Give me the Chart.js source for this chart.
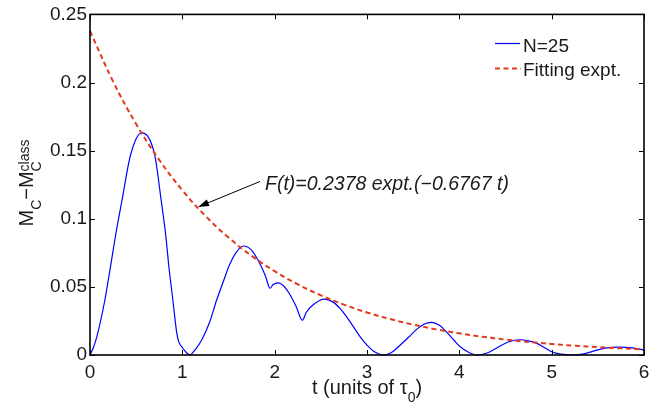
<!DOCTYPE html>
<html>
<head>
<meta charset="utf-8">
<script src="https://cdn.jsdelivr.net/npm/chart.js@4/dist/chart.umd.min.js"></script>
<style>
  html, body { margin: 0; padding: 0; background: #fff; }
  #wrap { width: 669px; height: 410px; }
</style>
</head>
<body>
<div id="wrap"><canvas id="decayChart" width="669" height="410"></canvas></div>
<script>
// values
const blueT = [0, 0.04, 0.08, 0.16, 0.22, 0.28, 0.345, 0.44, 0.56, 0.70, 0.772, 0.819, 0.855, 0.898, 0.94,
    0.96, 1.0, 1.04, 1.08, 1.14, 1.21, 1.30, 1.37, 1.45, 1.51, 1.58, 1.66, 1.75, 1.84, 1.90, 1.95,
    1.98, 2.04, 2.10, 2.16, 2.23, 2.30, 2.34, 2.42, 2.54, 2.63, 2.71, 2.78, 2.85, 2.93, 3.00, 3.09,
    3.18, 3.27, 3.36, 3.45, 3.54, 3.62, 3.70, 3.78, 3.86, 3.94, 4.01, 4.10, 4.19, 4.30, 4.40, 4.53,
    4.66, 4.76, 4.84, 4.92, 5.00, 5.10, 5.24, 5.37, 5.49, 5.60, 5.72, 5.85, 6.00];
const blueM = [0, 0.006, 0.015, 0.040, 0.064, 0.089, 0.113, 0.147, 0.163, 0.147, 0.113, 0.0887, 0.0644, 0.040, 0.016,
    0.010, 0.0055, 0.002, 0, 0.004, 0.011, 0.025, 0.040, 0.055, 0.066, 0.075, 0.080, 0.077, 0.067, 0.058, 0.049,
    0.0515, 0.053, 0.0505, 0.045, 0.036, 0.0255, 0.031, 0.037, 0.041, 0.039, 0.034, 0.028, 0.021, 0.013, 0.0073, 0.002,
    0, 0.002, 0.0073, 0.013, 0.019, 0.0228, 0.024, 0.022, 0.017, 0.011, 0.006, 0.002, 0, 0.0015, 0.005, 0.0095,
    0.0112, 0.0102, 0.0085, 0.0055, 0.0024, 0.0006, 0, 0.0012, 0.0036, 0.0052, 0.0058, 0.0054, 0.0036];

const fitT = [0, 0.25, 0.5, 0.75, 1, 1.25, 1.5, 1.75, 2, 2.25, 2.5, 2.75, 3, 3.25, 3.5, 3.75, 4, 4.25, 4.5, 4.75, 5, 5.25, 5.5, 5.75, 6];
const fitM = [0.2378, 0.2008, 0.1695, 0.1432, 0.1209, 0.1021, 0.0862, 0.0728, 0.0615, 0.0519, 0.0438, 0.0370, 0.0312,
    0.0264, 0.0223, 0.0188, 0.0159, 0.0134, 0.0113, 0.0096, 0.0081, 0.0068, 0.0058, 0.0049, 0.0041];

const xTicks = [0, 1, 2, 3, 4, 5, 6];
const xTickLabels = ['0', '1', '2', '3', '4', '5', '6'];
const yTicks = [0, 0.05, 0.1, 0.15, 0.2, 0.25];
const yTickLabels = ['0', '0.05', '0.1', '0.15', '0.2', '0.25'];

const seriesNames = ['N=25', 'Fitting expt.'];
const fitNote = 'F(t)=0.2378 expt.(\u22120.6767 t)';

const FONT = '"Liberation Sans", Arial, Helvetica, sans-serif';
const BLUE = '#0000ff';
const RED = '#e2381c';
const INK = '#1a1a1a';

// draws a piece of text with sub/superscripts, left to right from x
function drawRich(ctx, parts, x, y) {
    parts.forEach(p => {
        ctx.font = p.size + 'px ' + FONT;
        const w = ctx.measureText(p.text).width;
        ctx.fillText(p.text, x, y + (p.dy || 0));
        if (p.sup) {
            ctx.font = p.sup.size + 'px ' + FONT;
            ctx.fillText(p.sup.text, x, y + p.sup.dy);
            x += Math.max(w, ctx.measureText(p.sup.text).width);
        } else {
            x += w;
        }
    });
    return x;
}

function richWidth(ctx, parts) {
    let w = 0;
    parts.forEach(p => {
        ctx.font = p.size + 'px ' + FONT;
        let pw = ctx.measureText(p.text).width;
        if (p.sup) {
            ctx.font = p.sup.size + 'px ' + FONT;
            pw = Math.max(pw, ctx.measureText(p.sup.text).width);
        }
        w += pw;
    });
    return w;
}

const frameAndNotes = {
    id: 'frameAndNotes',
    afterDatasetsDraw(chart) {
        const ctx = chart.ctx;
        const a = chart.chartArea;
        const xs = chart.scales.x, ys = chart.scales.y;
        ctx.save();

        // inward ticks on all four sides (matlab box)
        ctx.strokeStyle = '#000';
        ctx.lineWidth = 1;
        ctx.beginPath();
        xTicks.forEach(v => {
            const px = Math.round(xs.getPixelForValue(v)) + 0.5;
            ctx.moveTo(px, a.bottom); ctx.lineTo(px, a.bottom - 5);
            ctx.moveTo(px, a.top); ctx.lineTo(px, a.top + 5);
        });
        yTicks.forEach(v => {
            const py = Math.round(ys.getPixelForValue(v)) + 0.5;
            ctx.moveTo(a.left, py); ctx.lineTo(a.left + 5, py);
            ctx.moveTo(a.right, py); ctx.lineTo(a.right - 5, py);
        });
        ctx.stroke();

        ctx.lineWidth = 1.6;
        ctx.strokeRect(a.left, a.top, a.right - a.left, a.bottom - a.top);

        // legend, top right inside the box
        ctx.lineWidth = 1.2;
        ctx.strokeStyle = BLUE;
        ctx.beginPath(); ctx.moveTo(495, 43.5); ctx.lineTo(520, 43.5); ctx.stroke();
        ctx.strokeStyle = RED;
        ctx.lineWidth = 2;
        ctx.setLineDash([5, 3.5]);
        ctx.beginPath(); ctx.moveTo(495, 68.5); ctx.lineTo(521, 68.5); ctx.stroke();
        ctx.setLineDash([]);
        ctx.fillStyle = INK;
        ctx.font = '19px ' + FONT;
        ctx.textBaseline = 'alphabetic';
        ctx.textAlign = 'left';
        ctx.fillText(seriesNames[0], 523, 51.5);
        ctx.fillText(seriesNames[1], 523, 76);

        // fit annotation with arrow
        ctx.font = 'italic 19.5px ' + FONT;
        ctx.fillText(fitNote, 265, 190);
        ctx.strokeStyle = '#000';
        ctx.lineWidth = 1;
        ctx.beginPath(); ctx.moveTo(260, 181.5); ctx.lineTo(204, 204.5); ctx.stroke();
        const ang = Math.atan2(207 - 181.5, 198 - 260);
        ctx.beginPath();
        ctx.moveTo(198, 207);
        ctx.lineTo(198 - 11 * Math.cos(ang) + 3.5 * Math.sin(ang), 207 - 11 * Math.sin(ang) - 3.5 * Math.cos(ang));
        ctx.lineTo(198 - 11 * Math.cos(ang) - 3.5 * Math.sin(ang), 207 - 11 * Math.sin(ang) + 3.5 * Math.cos(ang));
        ctx.closePath();
        ctx.fillStyle = '#000';
        ctx.fill();

        // x axis title: t (units of tau_0)
        ctx.fillStyle = INK;
        const xParts = [
            { text: 't (units of \u03c4', size: 20 },
            { text: '0', size: 14, dy: 8 },
            { text: ')', size: 20 }
        ];
        const xw = richWidth(ctx, xParts);
        drawRich(ctx, xParts, (a.left + a.right) / 2 - xw / 2, 394);

        // y axis title: M_C - M_C^class
        const yParts = [
            { text: 'M', size: 20 },
            { text: 'C', size: 14, dy: 8 },
            { text: '\u2212M', size: 20 },
            { text: 'C', size: 14, dy: 8, sup: { text: 'class', size: 14, dy: -4 } }
        ];
        const yw = richWidth(ctx, yParts);
        ctx.translate(33, 183);
        ctx.rotate(-Math.PI / 2);
        drawRich(ctx, yParts, -yw / 2, 0);
        ctx.restore();
    }
};

const ctx = document.getElementById('decayChart').getContext('2d');
new Chart(ctx, {
    type: 'line',
    data: {
        datasets: [{
            label: seriesNames[1],
            data: fitT.map((t, i) => ({ x: t, y: fitM[i] })),
            borderColor: RED,
            borderWidth: 2,
            borderDash: [5, 3.5],
            pointRadius: 0,
            fill: false,
            tension: 0.4,
            clip: 4,
            order: 0
        }, {
            label: seriesNames[0],
            data: blueT.map((t, i) => ({ x: t, y: blueM[i] })),
            borderColor: BLUE,
            borderWidth: 1.2,
            pointRadius: 0,
            fill: false,
            cubicInterpolationMode: 'monotone',
            clip: 4,
            order: 1
        }]
    },
    options: {
        responsive: false,
        animation: false,
        devicePixelRatio: 1,
        layout: { padding: { top: 12, right: 25, bottom: 0, left: 0 } },
        plugins: {
            legend: { display: false },
            tooltip: { enabled: false }
        },
        scales: {
            x: {
                type: 'linear',
                min: 0,
                max: 6,
                afterBuildTicks: scale => { scale.ticks = xTicks.map(v => ({ value: v })); },
                afterFit: scale => { scale.height = 55; },
                grid: { display: false, drawTicks: false },
                border: { display: false },
                ticks: {
                    padding: 6,
                    color: INK,
                    font: { family: FONT, size: 19 },
                    maxRotation: 0,
                    callback: (v, i) => xTickLabels[i]
                }
            },
            y: {
                type: 'linear',
                min: 0,
                max: 0.25,
                afterBuildTicks: scale => { scale.ticks = yTicks.map(v => ({ value: v })); },
                afterFit: scale => { scale.width = 90; },
                grid: { display: false, drawTicks: false },
                border: { display: false },
                ticks: {
                    padding: 3,
                    color: INK,
                    font: { family: FONT, size: 19 },
                    callback: (v, i) => yTickLabels[i]
                }
            }
        }
    },
    plugins: [frameAndNotes]
});
</script>
</body>
</html>
